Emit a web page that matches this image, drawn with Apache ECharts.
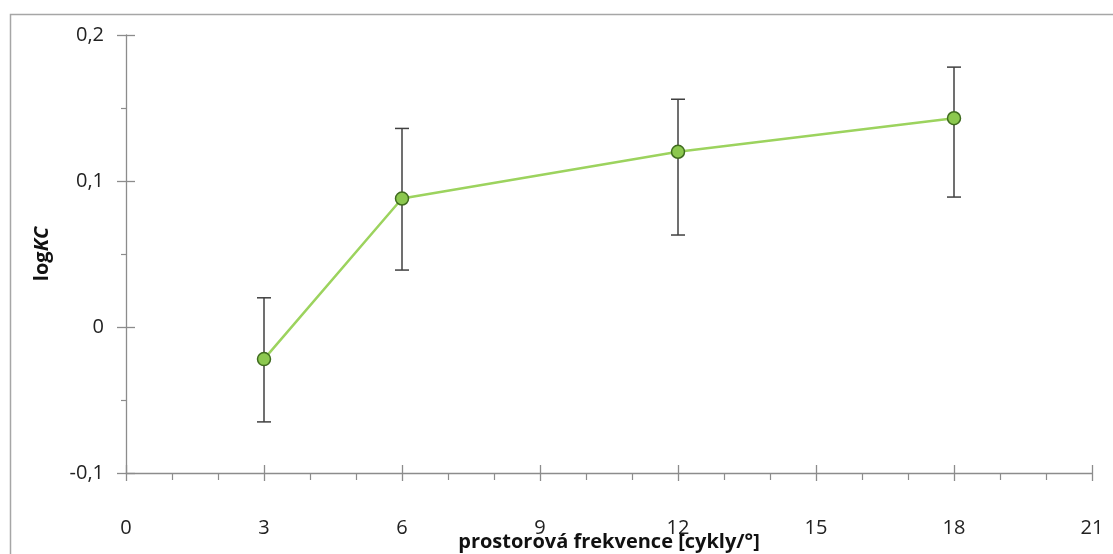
<!DOCTYPE html>
<html>
<head>
<meta charset="utf-8">
<script src="https://cdn.jsdelivr.net/npm/echarts@6/dist/echarts.min.js"></script>
<style>
  html, body { margin: 0; padding: 0; background: #fff; }
  #chart { width: 1113px; height: 554px; }
</style>
</head>
<body>
<div id="chart"></div>
<script>
// prostorová frekvence [cykly/°]
var freq = [3, 6, 12, 18]
// logKC – střední hodnoty
var logKC = [-0.022, 0.088, 0.120, 0.143]
// chybové úsečky (spodní / horní mez)
var errLow = [-0.065, 0.039, 0.063, 0.089]
var errHigh = [0.020, 0.136, 0.156, 0.178]

var xTicks = { min: 0, max: 21, interval: 3 }
var yTicks = { min: -0.1, max: 0.2, interval: 0.1 }

var font = '"Open Sans", "Liberation Sans", sans-serif'
var axisGrey = '#8c8c8c'

var myChart = echarts.init(document.getElementById('chart'))

var errData = freq.map(function (f, i) {
	return [f, errLow[i], errHigh[i]]
})

var option = {
	animation: false,
	backgroundColor: '#fff',
	graphic: [
		{
			type: 'rect',
			left: 8,
			top: 12,
			shape: { width: 1200, height: 600 },
			style: { fill: 'none', stroke: '#a6a6a6', lineWidth: 1.5 },
			silent: true
		}
	],
	grid: {
		left: 126,
		right: 21,
		top: 35,
		bottom: 81,
		containLabel: false,
		outerBoundsMode: 'none'
	},
	xAxis: [
		{
			type: 'value',
			min: xTicks.min,
			max: xTicks.max,
			interval: xTicks.interval,
			name: 'prostorová frekvence [cykly/°]',
			nameLocation: 'middle',
			nameGap: 59,
			nameMoveOverlap: false,
			nameTextStyle: { fontFamily: font, fontSize: 20, fontWeight: 'bold', color: '#111' },
			axisLine: { show: true, onZero: false, lineStyle: { color: axisGrey, width: 1.3 } },
			axisTick: { show: true, length: 8, lineStyle: { color: axisGrey, width: 1.3 } },
			minorTick: { show: true, splitNumber: 3, length: 7, lineStyle: { color: axisGrey, width: 1.2 } },
			splitLine: { show: false },
			axisLabel: { margin: 45, fontFamily: font, fontSize: 20, color: '#222' }
		},
		{
			// vnitřní polovina hlavních značek (křížové značky)
			type: 'value',
			position: 'bottom',
			min: xTicks.min,
			max: xTicks.max,
			interval: xTicks.interval,
			axisLine: { show: false, onZero: false },
			axisTick: { show: true, inside: true, length: 8, lineStyle: { color: axisGrey, width: 1.3 } },
			axisLabel: { show: false },
			splitLine: { show: false }
		}
	],
	yAxis: [
		{
			type: 'value',
			position: 'left',
			min: yTicks.min,
			max: yTicks.max,
			interval: yTicks.interval,
			name: '{n|log}{i|KC}',
			nameLocation: 'middle',
			nameGap: 74,
			nameMoveOverlap: false,
			nameTextStyle: {
				rich: {
					n: { fontFamily: font, fontSize: 20, fontWeight: 'bold', color: '#111' },
					i: { fontFamily: font, fontSize: 20, fontWeight: 'bold', fontStyle: 'italic', color: '#111' }
				}
			},
			axisLine: { show: true, onZero: false, lineStyle: { color: axisGrey, width: 1.3 } },
			axisTick: { show: true, length: 9, lineStyle: { color: axisGrey, width: 1.3 } },
			minorTick: { show: true, splitNumber: 2, length: 5, lineStyle: { color: axisGrey, width: 1.2 } },
			splitLine: { show: false },
			axisLabel: {
				margin: 22,
				fontFamily: font,
				fontSize: 20,
				color: '#222',
				formatter: function (v) {
					return (Math.round(v * 10) / 10).toString().replace('.', ',')
				}
			}
		},
		{
			type: 'value',
			position: 'left',
			min: yTicks.min,
			max: yTicks.max,
			interval: yTicks.interval,
			axisLine: { show: false, onZero: false },
			axisTick: { show: true, inside: true, length: 9, lineStyle: { color: axisGrey, width: 1.3 } },
			axisLabel: { show: false },
			splitLine: { show: false }
		}
	],
	series: [
		{
			type: 'custom',
			name: 'chyba',
			z: 1,
			renderItem: function (params, api) {
				var x = api.value(0)
				var lo = api.coord([x, api.value(1)])
				var hi = api.coord([x, api.value(2)])
				var cap = 7
				var style = { stroke: '#404040', lineWidth: 1.5 }
				return {
					type: 'group',
					children: [
						{ type: 'line', shape: { x1: lo[0], y1: lo[1], x2: hi[0], y2: hi[1] }, style: style },
						{ type: 'line', shape: { x1: hi[0] - cap, y1: hi[1], x2: hi[0] + cap, y2: hi[1] }, style: style },
						{ type: 'line', shape: { x1: lo[0] - cap, y1: lo[1], x2: lo[0] + cap, y2: lo[1] }, style: style }
					]
				}
			},
			encode: { x: 0, y: [1, 2] },
			data: errData
		},
		{
			type: 'line',
			name: 'logKC',
			z: 3,
			data: freq.map(function (f, i) { return [f, logKC[i]] }),
			symbol: 'circle',
			symbolSize: 13,
			lineStyle: { color: '#9cd35e', width: 2.5 },
			itemStyle: { color: '#8cc84f', borderColor: '#3f6b1f', borderWidth: 1.5 }
		}
	]
}
myChart.setOption(option)
</script>
</body>
</html>
